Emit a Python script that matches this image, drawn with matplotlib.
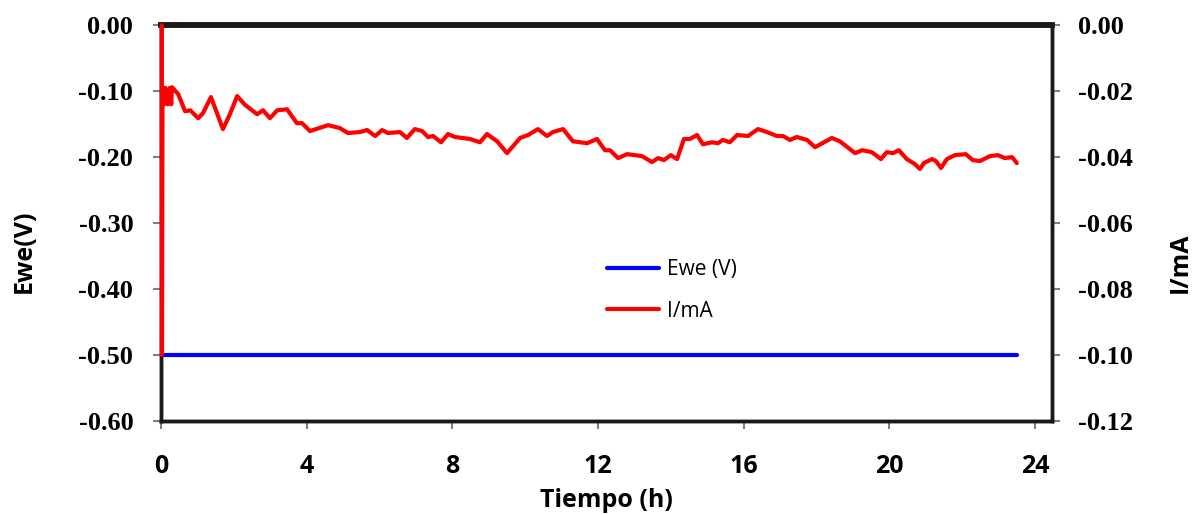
import numpy as np
import matplotlib.pyplot as plt

# time (h) and current (mA)
t_red = [0.02, 0.025, 0.04, 0.08, 0.12, 0.18, 0.24, 0.28, 0.30, 0.47, 0.66, 0.80,
         1.02, 1.15, 1.37, 1.70, 1.89, 2.09, 2.31, 2.64, 2.80, 2.99, 3.19, 3.46,
         3.73, 3.87, 4.09, 4.59, 4.91, 5.13, 5.46, 5.66, 5.88, 6.07, 6.23, 6.56,
         6.75, 6.97, 7.17, 7.33, 7.47, 7.69, 7.88, 8.07, 8.48, 8.76, 8.95, 9.23,
         9.50, 9.86, 10.08, 10.35, 10.60, 10.76, 11.04, 11.31, 11.70, 11.97, 12.19,
         12.33, 12.55, 12.80, 13.21, 13.48, 13.65, 13.81, 14.00, 14.17, 14.36, 14.52,
         14.72, 14.88, 15.13, 15.29, 15.43, 15.62, 15.82, 16.12, 16.39, 16.64, 16.91,
         17.08, 17.27, 17.46, 17.74, 17.96, 18.42, 18.64, 19.06, 19.25, 19.52, 19.77,
         19.93, 20.10, 20.26, 20.48, 20.70, 20.84, 20.95, 21.17, 21.28, 21.42, 21.58,
         21.80, 22.10, 22.29, 22.49, 22.76, 22.98, 23.17, 23.37, 23.50]
i_red = [0.0, -0.100, -0.019, -0.024, -0.019, -0.024, -0.019, -0.024, -0.0188, -0.0209,
         -0.0261, -0.0258, -0.0282, -0.0267, -0.0218, -0.0315, -0.0270, -0.0215, -0.0242,
         -0.0270, -0.0258, -0.0282, -0.0258, -0.0255, -0.0297, -0.0297, -0.0321, -0.0303,
         -0.0312, -0.0327, -0.0324, -0.0318, -0.0336, -0.0318, -0.0327, -0.0324, -0.0342,
         -0.0315, -0.0321, -0.0339, -0.0336, -0.0355, -0.0330, -0.0339, -0.0345, -0.0355,
         -0.0330, -0.0352, -0.0388, -0.0342, -0.0333, -0.0315, -0.0336, -0.0324, -0.0315,
         -0.0352, -0.0358, -0.0345, -0.0379, -0.0379, -0.0403, -0.0391, -0.0397, -0.0415,
         -0.0403, -0.0409, -0.0394, -0.0406, -0.0345, -0.0345, -0.0333, -0.0361, -0.0355,
         -0.0358, -0.0348, -0.0355, -0.0333, -0.0336, -0.0315, -0.0324, -0.0336, -0.0336,
         -0.0348, -0.0339, -0.0348, -0.0370, -0.0342, -0.0352, -0.0388, -0.0379, -0.0385,
         -0.0406, -0.0385, -0.0388, -0.0379, -0.0406, -0.0421, -0.0436, -0.0418, -0.0406,
         -0.0412, -0.0433, -0.0406, -0.0394, -0.0391, -0.0409, -0.0412, -0.0397, -0.0394,
         -0.0403, -0.0400, -0.0418]

# potential (V), constant over the run
t_blue = [0.02, 6.0, 12.0, 18.0, 23.5]
ewe_blue = [-0.500, -0.500, -0.500, -0.500, -0.500]

xticks = [0, 4, 8, 12, 16, 20, 24]
yticks_left = [0.0, -0.1, -0.2, -0.3, -0.4, -0.5, -0.6]
yticks_right = [0.0, -0.02, -0.04, -0.06, -0.08, -0.10, -0.12]

sans = "Open Sans"
serif = "Liberation Serif"

fig = plt.figure(figsize=(12.02, 5.14), dpi=100)
ax = fig.add_axes([0.134, 0.181, 0.741, 0.770])
ax2 = ax.twinx()

lb, = ax.plot(t_blue, ewe_blue, color="#0000ff", lw=3, label="Ewe (V)",
              solid_capstyle="round")
lr, = ax2.plot(t_red, i_red, color="#ff0000", lw=3, label="I/mA",
               solid_capstyle="round", solid_joinstyle="round",
               zorder=3, clip_on=False)

ax.set_xlim(0, 24.46)
ax.set_ylim(-0.6, 0.0)
ax2.set_ylim(-0.12, 0.0)
ax.set_xticks(xticks)
ax.set_yticks(yticks_left)
ax2.set_yticks(yticks_right)
ax.set_yticklabels(["%.2f" % v for v in yticks_left])
ax2.set_yticklabels(["%.2f" % v for v in yticks_right])

for a in (ax, ax2):
    for s in a.spines.values():
        s.set_linewidth(2.5)
        s.set_color("#1a1a1a")
    a.spines["top"].set_linewidth(4)
    a.tick_params(direction="out", length=6, width=1.5, color="#808080")

for lab in ax.get_yticklabels() + ax2.get_yticklabels():
    lab.set_fontfamily(serif)
    lab.set_fontweight("bold")
    lab.set_fontsize(19)
for lab in ax.get_xticklabels():
    lab.set_fontfamily(sans)
    lab.set_fontweight("bold")
    lab.set_fontsize(18)
ax.tick_params(axis="x", pad=18)
ax.tick_params(axis="y", pad=14)
ax2.tick_params(axis="y", pad=13)

ax.set_xlabel("Tiempo (h)", fontfamily=sans, fontweight="bold", fontsize=18,
              labelpad=6)
ax.set_ylabel("Ewe(V)", fontfamily=sans, fontweight="bold", fontsize=18)
ax2.set_ylabel("I/mA", fontfamily=sans, fontweight="bold", fontsize=18)
ax.yaxis.set_label_coords(-0.140, 0.43)
ax2.yaxis.set_label_coords(1.130, 0.40)

leg = ax2.legend(handles=[lb, lr], loc="center left",
                 bbox_to_anchor=(0.48, 0.33), frameon=False,
                 prop={"family": sans, "size": 15}, handlelength=2.5,
                 handletextpad=0.35, labelspacing=1.0)

fig.savefig("out.png", dpi=100)
